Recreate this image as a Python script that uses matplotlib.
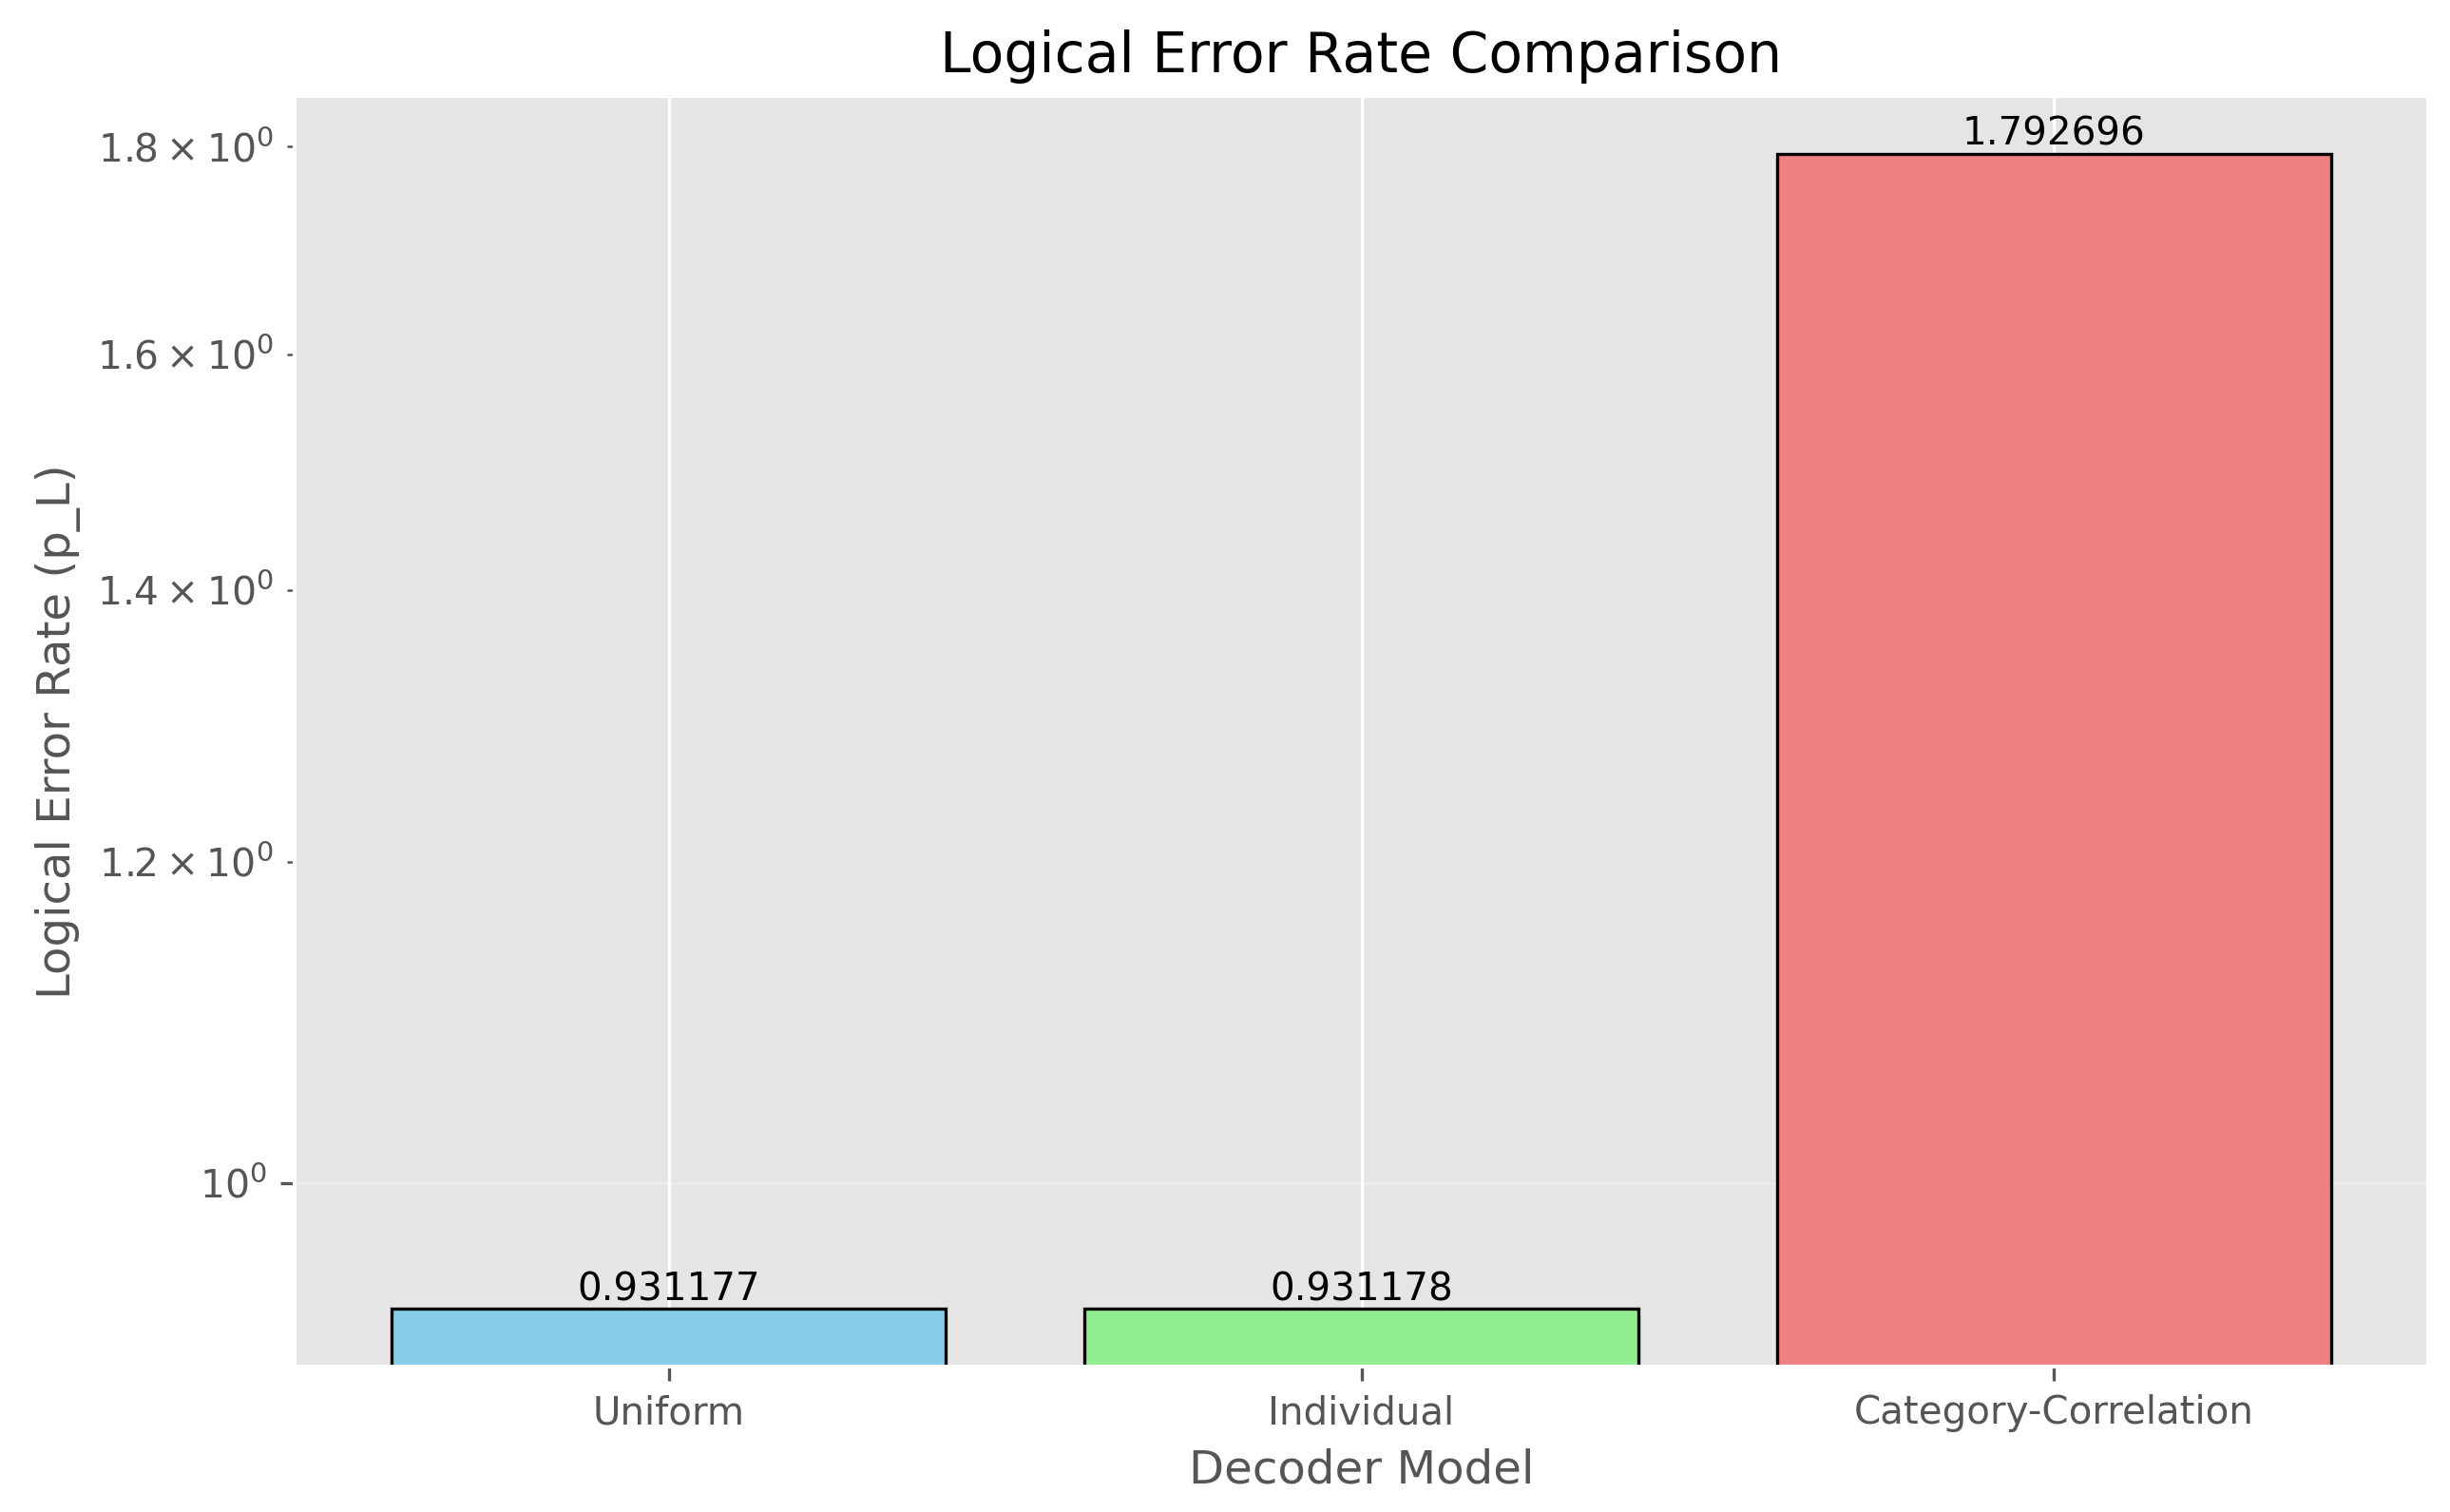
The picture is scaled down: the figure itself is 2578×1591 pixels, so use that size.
import matplotlib
matplotlib.use("Agg")
import matplotlib.pyplot as plt

plt.style.use("ggplot")

models = ["Uniform", "Individual", "Category-Correlation"]
error_rates = [0.931177, 0.931178, 1.792696]
colors = ["skyblue", "lightgreen", "lightcoral"]

fig, ax = plt.subplots(figsize=(2579/300, 1591/300), dpi=300)
bars = ax.bar(models, error_rates, color=colors, edgecolor="black", linewidth=0.8)
ax.set_yscale("log")
for b, v in zip(bars, error_rates):
    ax.text(b.get_x() + b.get_width()/2, v, f"{v:.6f}", ha="center", va="bottom", fontsize=9.7, color="black")
ax.set_title("Logical Error Rate Comparison", fontsize=14)
ax.set_xlabel("Decoder Model", fontsize=11.6)
ax.set_ylabel("Logical Error Rate (p_L)", fontsize=11.6)
ax.tick_params(axis="x", labelsize=9.7)
ax.tick_params(axis="y", which="both", labelsize=9.8)
ax.grid(axis="x", color="white", linewidth=0.8)
ax.grid(axis="y", color="white", alpha=0.3)
fig.subplots_adjust(left=0.1202, right=0.9907, top=0.9365, bottom=0.0962)
fig.savefig("out.png", dpi=300)
